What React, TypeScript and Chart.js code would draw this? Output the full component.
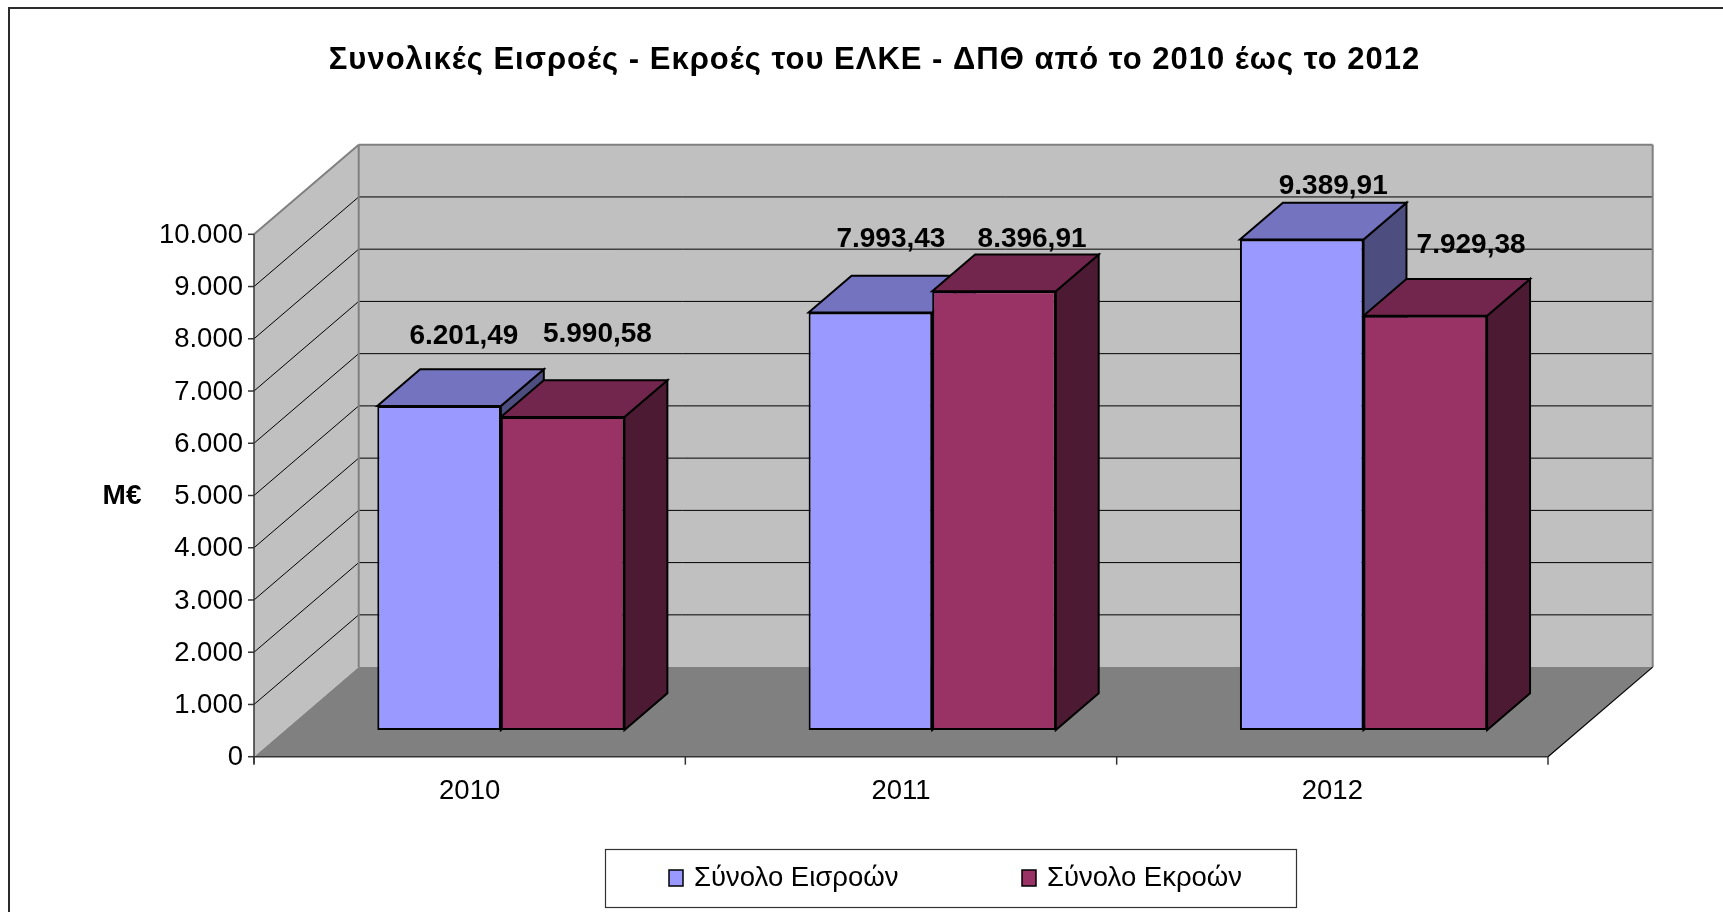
import React, { useEffect, useRef } from 'react';
import { Chart, registerables } from 'chart.js';

Chart.register(...registerables);

const TITLE = 'Συνολικές Εισροές - Εκροές του ΕΛΚΕ - ΔΠΘ από το 2010 έως το 2012';
const Y_TITLE = 'M€';
const CATEGORIES = ['2010', '2011', '2012'];
const SERIES_NAMES = ['Σύνολο Εισροών', 'Σύνολο Εκροών'];
const INFLOWS = [6201.49, 7993.43, 9389.91];
const OUTFLOWS = [5990.58, 8396.91, 7929.38];
const Y_TICKS = [0, 1000, 2000, 3000, 4000, 5000, 6000, 7000, 8000, 9000, 10000];
const Y_TICK_LABELS = ['0', '1.000', '2.000', '3.000', '4.000', '5.000', '6.000', '7.000', '8.000', '9.000', '10.000'];

const FRONT_COLORS = ['#9999FF', '#993366'];
const TOP_COLORS = ['#7373BF', '#73264D'];
const SIDE_COLORS = ['#4D4D80', '#4D1A33'];

const W = 1723;
const H = 912;
const FONT = '"Liberation Sans", Arial, Helvetica, sans-serif';

// 3D geometry
const DEPTH_X = 104.7;
const DEPTH_Y = 89.6;
const FRONT_FRAC = 0.298;
const BAR_FRAC = 0.41;

// per-label nudges (series x category), as placed in the original
const LABEL_NUDGE = [
  [[-6.6, -1.1], [-11, -4.4], [0, 15.4]],
  [[3.3, -14.3], [6.6, 16.5], [14.3, -2.2]],
];

function fmtGreek(v: number): string {
  const fixed = v.toFixed(2);
  const [ip, fp] = fixed.split('.');
  const withSep = ip.replace(/\B(?=(\d{3})+(?!\d))/g, '.');
  return withSep + ',' + fp;
}

function poly(ctx: CanvasRenderingContext2D, pts: number[][], fill?: string, stroke?: string, lw = 1) {
  ctx.beginPath();
  ctx.moveTo(pts[0][0], pts[0][1]);
  for (let i = 1; i < pts.length; i++) ctx.lineTo(pts[i][0], pts[i][1]);
  ctx.closePath();
  if (fill) {
    ctx.fillStyle = fill;
    ctx.fill();
  }
  if (stroke) {
    ctx.strokeStyle = stroke;
    ctx.lineWidth = lw;
    ctx.stroke();
  }
}

function line(ctx: CanvasRenderingContext2D, x1: number, y1: number, x2: number, y2: number, color: string, lw: number) {
  ctx.beginPath();
  ctx.moveTo(x1, y1);
  ctx.lineTo(x2, y2);
  ctx.strokeStyle = color;
  ctx.lineWidth = lw;
  ctx.stroke();
}

const scenePlugin = {
  id: 'scene3d',
  beforeDatasetsDraw(chart: any) {
    const ctx: CanvasRenderingContext2D = chart.ctx;
    const { left, right, top, bottom } = chart.chartArea;
    const yScale = chart.scales.y;
    const xScale = chart.scales.x;
    const fx = -FRONT_FRAC * DEPTH_X;
    const fy = FRONT_FRAC * DEPTH_Y;
    const FL = left + fx, FR = right + fx, FT = top + fy, FB = bottom + fy;
    const BL = FL + DEPTH_X, BR = FR + DEPTH_X, BT = FT - DEPTH_Y, BB = FB - DEPTH_Y;

    ctx.save();
    // background
    ctx.fillStyle = '#FFFFFF';
    ctx.fillRect(0, 0, W, H);
    // outer border
    ctx.strokeStyle = '#2b2b2b';
    ctx.lineWidth = 2;
    ctx.strokeRect(9, 8, W + 20, H + 20);

    // title
    ctx.fillStyle = '#000';
    ctx.font = `bold 31px ${FONT}`;
    (ctx as any).letterSpacing = '1px';
    ctx.textAlign = 'center';
    ctx.textBaseline = 'alphabetic';
    ctx.fillText(TITLE, 874.5, 69);
    (ctx as any).letterSpacing = '0px';

    // walls
    ctx.fillStyle = '#C0C0C0';
    ctx.fillRect(BL, BT, BR - BL, BB - BT);
    poly(ctx, [[FL, FT], [BL, BT], [BL, BB], [FL, FB]], '#C0C0C0');
    poly(ctx, [[FL, FB], [FR, FB], [BR, BB], [BL, BB]], '#808080');

    // gridlines
    Y_TICKS.forEach((v) => {
      const yb = yScale.getPixelForValue(v) + fy - DEPTH_Y;
      const yf = yScale.getPixelForValue(v) + fy;
      if (v !== 0 && v !== 10000) {
        line(ctx, BL, yb, BR, yb, '#000', 1);
        line(ctx, FL, yf, BL, yb, '#000', 1);
      }
    });

    // wall edges
    line(ctx, BL, BT, BR, BT, '#808080', 2);
    line(ctx, FL, FT, BL, BT, '#808080', 2);
    line(ctx, BL, BT, BL, BB, '#808080', 2);
    line(ctx, BR, BT, BR, BB, '#808080', 2);
    line(ctx, FR, FB, BR, BB, '#000', 1.2);

    // front axes
    line(ctx, FL, FT, FL, FB + 7, '#333', 1.5);
    line(ctx, FL, FB, FR, FB, '#333', 1.5);

    // y ticks + labels
    ctx.font = `27.5px ${FONT}`;
    ctx.textAlign = 'right';
    ctx.textBaseline = 'middle';
    Y_TICKS.forEach((v, i) => {
      const yf = yScale.getPixelForValue(v) + fy;
      line(ctx, FL - 6, yf, FL, yf, '#333', 1.5);
      ctx.fillStyle = '#000';
      ctx.fillText(Y_TICK_LABELS[i], FL - 11, yf + 1);
    });

    // x ticks + labels
    const catW = xScale.getPixelForValue(1) - xScale.getPixelForValue(0);
    ctx.textAlign = 'center';
    CATEGORIES.forEach((c, i) => {
      const cx = xScale.getPixelForValue(i) + fx;
      ctx.fillStyle = '#000';
      ctx.fillText(c, cx, FB + 35);
    });
    for (let i = 0; i <= CATEGORIES.length; i++) {
      const bx = xScale.getPixelForValue(0) - catW / 2 + i * catW + fx;
      line(ctx, bx, FB, bx, FB + 8, '#333', 1.5);
    }

    // y title
    ctx.font = `bold 28px ${FONT}`;
    ctx.textAlign = 'center';
    ctx.fillStyle = '#000';
    ctx.fillText(Y_TITLE, 122, 496);

    // 3D bar faces (top + side), drawn per category, series in order
    const bdx = BAR_FRAC * DEPTH_X;
    const bdy = BAR_FRAC * DEPTH_Y;
    ctx.lineJoin = 'miter';
    for (let i = 0; i < CATEGORIES.length; i++) {
      for (let d = 0; d < chart.data.datasets.length; d++) {
        const bar: any = chart.getDatasetMeta(d).data[i];
        const x0 = bar.x - bar.width / 2;
        const x1 = bar.x + bar.width / 2;
        const yT = bar.y;
        const yB = bar.base;
        poly(ctx, [[x1, yT], [x1 + bdx, yT - bdy], [x1 + bdx, yB - bdy], [x1, yB]], SIDE_COLORS[d], '#000', 2);
        poly(ctx, [[x0, yT], [x1, yT], [x1 + bdx, yT - bdy], [x0 + bdx, yT - bdy]], TOP_COLORS[d], '#000', 2);
      }
    }
    ctx.restore();
  },
  afterDatasetsDraw(chart: any) {
    const ctx: CanvasRenderingContext2D = chart.ctx;
    const bdx = BAR_FRAC * DEPTH_X;
    const bdy = BAR_FRAC * DEPTH_Y;
    ctx.save();
    ctx.font = `bold 28px ${FONT}`;
    ctx.textAlign = 'center';
    ctx.textBaseline = 'middle';
    ctx.fillStyle = '#000';
    chart.data.datasets.forEach((ds: any, d: number) => {
      chart.getDatasetMeta(d).data.forEach((bar: any, i: number) => {
        const [nx, ny] = LABEL_NUDGE[d][i];
        ctx.fillText(fmtGreek(ds.data[i]), bar.x + bdx * 0.5 + 10 + nx, bar.y - bdy * 0.5 - 50 + ny);
      });
    });

    // legend
    ctx.strokeStyle = '#333';
    ctx.lineWidth = 1.2;
    ctx.strokeRect(605.5, 849.5, 691, 58);
    const legendX = [669, 1022];
    SERIES_NAMES.forEach((name, d) => {
      ctx.fillStyle = FRONT_COLORS[d];
      ctx.fillRect(legendX[d], 870, 14, 16);
      ctx.strokeStyle = '#000';
      ctx.lineWidth = 1.5;
      ctx.strokeRect(legendX[d], 870, 14, 16);
      ctx.fillStyle = '#000';
      ctx.font = `27.5px ${FONT}`;
      ctx.textAlign = 'left';
      ctx.textBaseline = 'middle';
      ctx.fillText(name, legendX[d] + 25, 878);
    });
    ctx.restore();
  },
};

export default function App() {
  const canvasRef = useRef<HTMLCanvasElement | null>(null);

  useEffect(() => {
    if (!canvasRef.current) return;
    const chart = new Chart(canvasRef.current, {
      type: 'bar',
      data: {
        labels: CATEGORIES,
        datasets: [
          {
            label: SERIES_NAMES[0],
            data: INFLOWS,
            backgroundColor: FRONT_COLORS[0],
            borderColor: '#000',
            borderWidth: 2,
            borderSkipped: false,
            categoryPercentage: 0.573,
            barPercentage: 1.0,
          },
          {
            label: SERIES_NAMES[1],
            data: OUTFLOWS,
            backgroundColor: FRONT_COLORS[1],
            borderColor: '#000',
            borderWidth: 2,
            borderSkipped: false,
            categoryPercentage: 0.573,
            barPercentage: 1.0,
          },
        ],
      },
      options: {
        responsive: false,
        animation: false,
        devicePixelRatio: 1,
        layout: {
          padding: { left: 285.2, right: 143.8, top: 207.6, bottom: 182 },
        },
        scales: {
          x: { display: false, offset: true },
          y: { display: false, min: 0, max: 10000, ticks: { stepSize: 1000 } },
        },
        plugins: {
          legend: { display: false },
          title: { display: false },
          tooltip: { enabled: false },
        },
      },
      plugins: [scenePlugin],
    } as any);
    return () => chart.destroy();
  }, []);

  return (
    <div style={{ position: 'absolute', left: 0, top: 0, width: W, height: H, background: '#fff' }}>
      <canvas ref={canvasRef} width={W} height={H} style={{ display: 'block' }} />
    </div>
  );
}
